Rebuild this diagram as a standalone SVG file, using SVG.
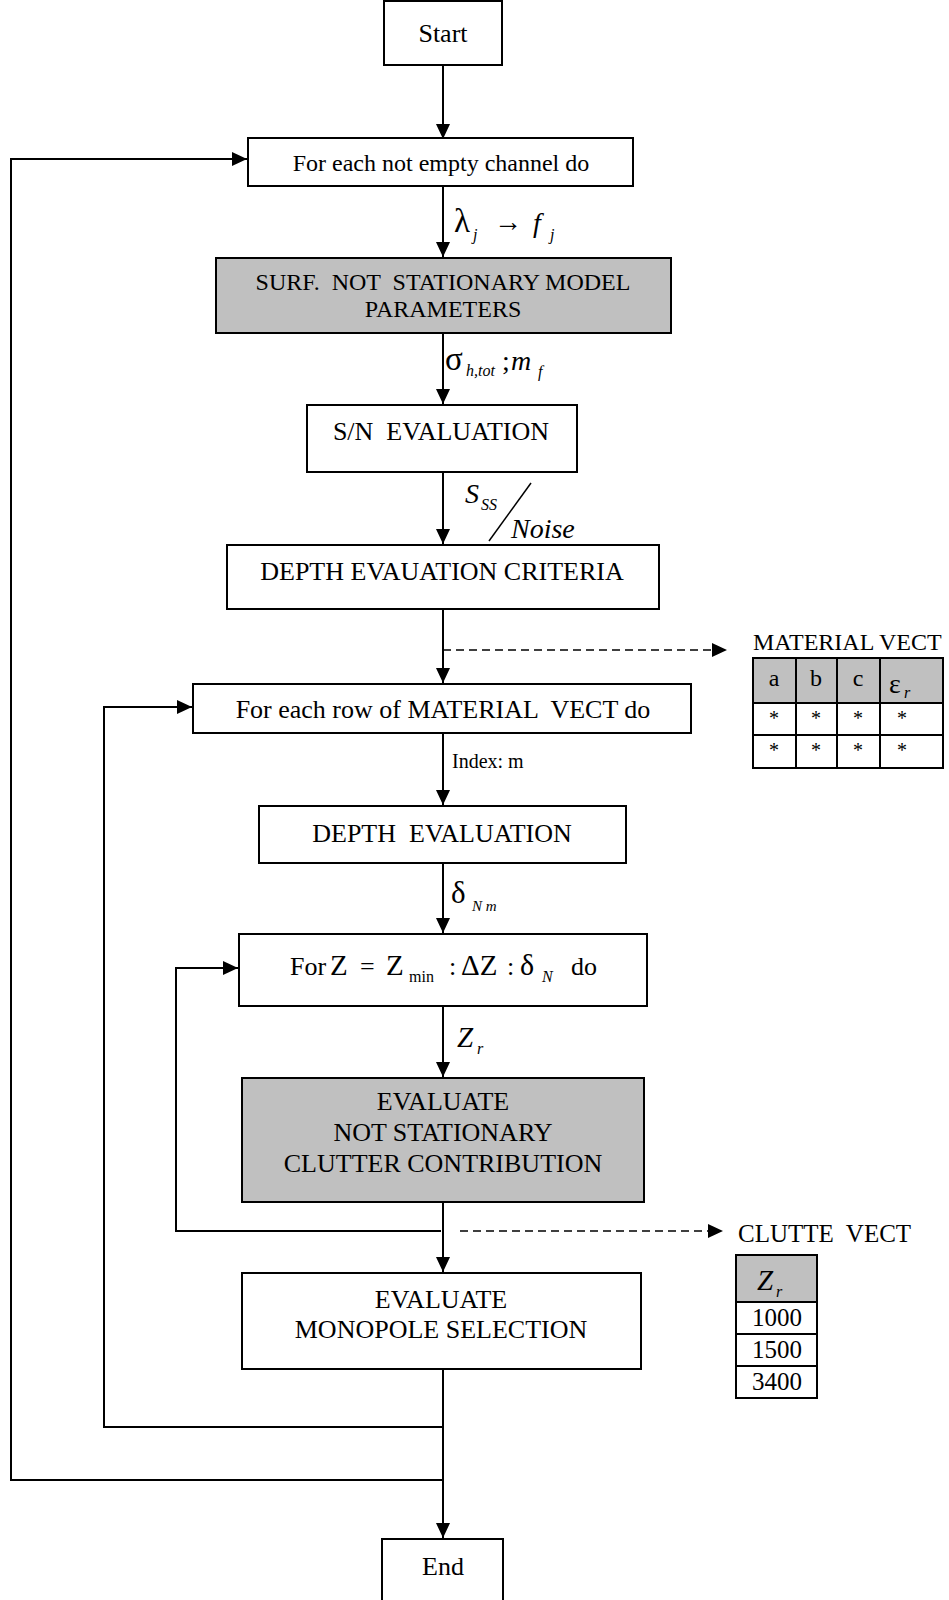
<svg xmlns="http://www.w3.org/2000/svg" width="949" height="1600" viewBox="0 0 949 1600">
<defs>
<marker id="ah" viewBox="0 0 15 14" refX="15" refY="7" markerWidth="15" markerHeight="14" markerUnits="userSpaceOnUse" orient="auto">
<path d="M0,0 L15,7 L0,14 Z" fill="#000"/>
</marker>
<style>
.box{fill:#fff;stroke:#000;stroke-width:2}
.gbox{fill:#c0c0c0;stroke:#000;stroke-width:2}
.ln{fill:none;stroke:#000;stroke-width:2}
.dash{fill:none;stroke:#000;stroke-width:1.6;stroke-dasharray:8,5}
text{font-family:"Liberation Serif","Times New Roman",serif;fill:#000}
.t26{font-size:26px;text-anchor:middle}
.t24{font-size:24px;text-anchor:middle}
.it{font-style:italic}
.cell{fill:#fff;stroke:#000;stroke-width:2}
.hcell{fill:#c0c0c0;stroke:#000;stroke-width:2}
</style>
</defs>
<rect width="949" height="1600" fill="#fff"/>

<g id="connectors">
<line class="ln" x1="443" y1="65" x2="443" y2="139" marker-end="url(#ah)"/>
<line class="ln" x1="443" y1="186" x2="443" y2="257" marker-end="url(#ah)"/>
<line class="ln" x1="443" y1="333" x2="443" y2="404" marker-end="url(#ah)"/>
<line class="ln" x1="443" y1="472" x2="443" y2="544" marker-end="url(#ah)"/>
<line class="ln" x1="443" y1="609" x2="443" y2="683" marker-end="url(#ah)"/>
<line class="ln" x1="443" y1="733" x2="443" y2="805" marker-end="url(#ah)"/>
<line class="ln" x1="443" y1="863" x2="443" y2="933" marker-end="url(#ah)"/>
<line class="ln" x1="443" y1="1006" x2="443" y2="1077" marker-end="url(#ah)"/>
<line class="ln" x1="443" y1="1202" x2="443" y2="1272" marker-end="url(#ah)"/>
<line class="ln" x1="443" y1="1369" x2="443" y2="1538" marker-end="url(#ah)"/>
<path class="ln" d="M443,1480 H11 V159 H247" marker-end="url(#ah)"/>
<path class="ln" d="M443,1427 H104 V707 H192" marker-end="url(#ah)"/>
<path class="ln" d="M441,1231 H176 V968 H238" marker-end="url(#ah)"/>
<path class="dash" d="M443,650 H712"/>
<path d="M712,643 L727,650 L712,657 Z" fill="#000"/>
<path class="dash" d="M460,1231 H708"/>
<path d="M708,1224 L723,1231 L708,1238 Z" fill="#000"/>
<line x1="489" y1="541" x2="531" y2="483" stroke="#000" stroke-width="1.5"/>
<text x="454" y="232" font-size="33">λ</text>
<text x="473" y="240" font-size="16" class="it">j</text>
<text x="494" y="231" font-size="28">→</text>
<text x="533" y="232" font-size="28" class="it">f</text>
<text x="550" y="240" font-size="16" class="it">j</text>
<text x="445" y="370" font-size="33">σ</text>
<text x="466" y="376" font-size="16" class="it">h,tot</text>
<text x="502" y="370" font-size="28">;</text>
<text x="511" y="370" font-size="28" class="it">m</text>
<text x="538" y="377" font-size="16" class="it">f</text>
<text x="465" y="503" font-size="28" class="it">S</text>
<text x="481" y="510" font-size="16" class="it">SS</text>
<text x="511" y="538" font-size="28" class="it">Noise</text>
<text x="452" y="768" font-size="20">Index: m</text>
<text x="451" y="903" font-size="31">δ</text>
<text x="472" y="911" font-size="15" class="it">N m</text>
<text x="457" y="1047" font-size="29" class="it">Z</text>
<text x="477" y="1054" font-size="16" class="it">r</text>
</g>

<g id="start">
<rect class="box" x="384" y="1" width="118" height="64"/>
<text class="t26" x="443" y="42">Start</text>
</g>
<g id="for-channel">
<rect class="box" x="248" y="138" width="385" height="48"/>
<text class="t24" x="441" y="171">For each not empty channel do</text>
</g>
<g id="surf-model">
<rect class="gbox" x="216" y="258" width="455" height="75"/>
<text class="t24" x="443" y="290" xml:space="preserve">SURF.  NOT  STATIONARY MODEL</text>
<text class="t24" x="443" y="317">PARAMETERS</text>
</g>
<g id="sn-eval">
<rect class="box" x="307" y="405" width="270" height="67"/>
<text class="t26" x="441" y="440" xml:space="preserve">S/N  EVALUATION</text>
</g>
<g id="depth-criteria">
<rect class="box" x="227" y="545" width="432" height="64"/>
<text class="t26" x="442" y="580">DEPTH EVAUATION CRITERIA</text>
</g>
<g id="for-material">
<rect class="box" x="193" y="684" width="498" height="49"/>
<text class="t26" x="443" y="718" xml:space="preserve">For each row of MATERIAL  VECT do</text>
</g>
<g id="depth-eval">
<rect class="box" x="259" y="806" width="367" height="57"/>
<text class="t26" x="442" y="842" xml:space="preserve">DEPTH  EVALUATION</text>
</g>
<g id="for-z">
<rect class="box" x="239" y="934" width="408" height="72"/>
<text font-size="26" y="975"><tspan x="290">For</tspan><tspan x="330" font-size="29">Z</tspan><tspan x="360">=</tspan><tspan x="386" font-size="29">Z</tspan><tspan x="409" y="982" font-size="16">min</tspan><tspan x="449" y="975">:</tspan><tspan x="461" font-size="29">ΔZ</tspan><tspan x="507">:</tspan><tspan x="520" font-size="30">δ</tspan><tspan x="542" y="982" font-size="16" class="it">N</tspan><tspan x="571" y="975">do</tspan></text>
</g>
<g id="eval-clutter">
<rect class="gbox" x="242" y="1078" width="402" height="124"/>
<text class="t26" x="443" y="1110">EVALUATE</text>
<text class="t26" x="443" y="1141">NOT STATIONARY</text>
<text class="t26" x="443" y="1172">CLUTTER CONTRIBUTION</text>
</g>
<g id="eval-monopole">
<rect class="box" x="242" y="1273" width="399" height="96"/>
<text class="t26" x="441" y="1308">EVALUATE</text>
<text class="t26" x="441" y="1338">MONOPOLE SELECTION</text>
</g>
<g id="end">
<rect class="box" x="382" y="1539" width="121" height="70"/>
<text class="t26" x="443" y="1575">End</text>
</g>

<g id="material-vect">
<text x="753" y="650" font-size="24">MATERIAL VECT</text>
<rect class="hcell" x="753" y="658" width="190" height="45"/>
<rect class="cell" x="753" y="703" width="190" height="32"/>
<rect class="cell" x="753" y="735" width="190" height="33"/>
<line class="ln" x1="796" y1="658" x2="796" y2="768"/>
<line class="ln" x1="837" y1="658" x2="837" y2="768"/>
<line class="ln" x1="880" y1="658" x2="880" y2="768"/>
<text class="t24" x="774" y="686" font-size="26">a</text>
<text class="t24" x="816" y="686" font-size="26">b</text>
<text class="t24" x="858" y="686" font-size="26">c</text>
<text x="889" y="693" font-size="28">ε</text>
<text x="904" y="698" font-size="16" class="it">r</text>
<g font-size="20" text-anchor="middle">
<text x="774" y="725">*</text><text x="816" y="725">*</text><text x="858" y="725">*</text><text x="902" y="725">*</text>
<text x="774" y="757">*</text><text x="816" y="757">*</text><text x="858" y="757">*</text><text x="902" y="757">*</text>
</g>
</g>

<g id="clutte-vect">
<text x="738" y="1242" font-size="25" xml:space="preserve">CLUTTE  VECT</text>
<rect class="hcell" x="736" y="1255" width="81" height="47"/>
<rect class="cell" x="736" y="1302" width="81" height="32"/>
<rect class="cell" x="736" y="1334" width="81" height="32"/>
<rect class="cell" x="736" y="1366" width="81" height="32"/>
<text x="757" y="1290" font-size="29" class="it">Z</text>
<text x="776" y="1297" font-size="16" class="it">r</text>
<text x="777" y="1326" font-size="25" text-anchor="middle">1000</text>
<text x="777" y="1358" font-size="25" text-anchor="middle">1500</text>
<text x="777" y="1390" font-size="25" text-anchor="middle">3400</text>
</g>
</svg>
